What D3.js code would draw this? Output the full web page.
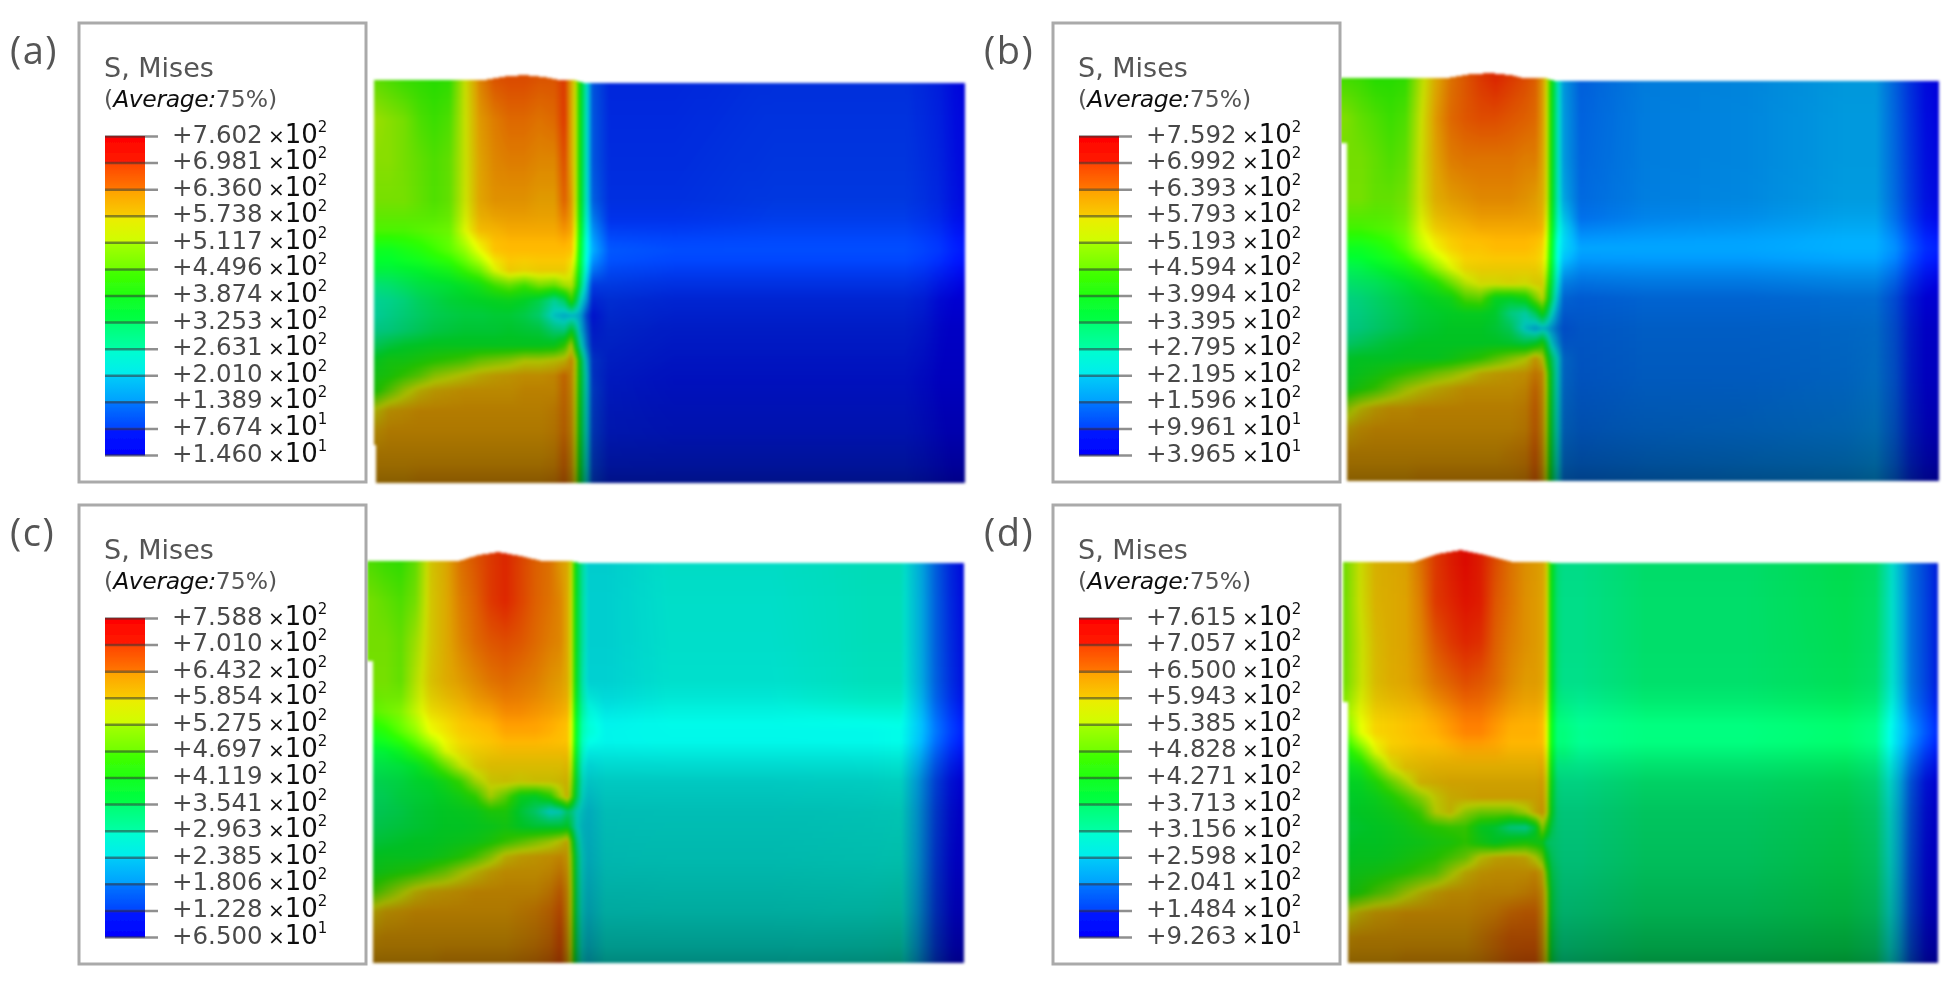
<!DOCTYPE html>
<html><head><meta charset="utf-8">
<script src="https://cdn.jsdelivr.net/npm/d3@7"></script>
<style>
html,body{margin:0;padding:0;background:#fff;overflow:hidden}
#wrap{position:relative;width:1955px;height:988px}
canvas,svg{position:absolute;left:0;top:0}
canvas{filter:blur(1.4px)}
text{font-family:"DejaVu Sans",sans-serif}
</style></head><body><div id="wrap"><canvas id="field" width="1955" height="988"></canvas><svg id="chart" width="1955" height="988"></svg></div>
<script>
// Legend ticks (MPa) as printed, top to bottom
const ticksA=["+7.602e2","+6.981e2","+6.360e2","+5.738e2","+5.117e2","+4.496e2","+3.874e2","+3.253e2","+2.631e2","+2.010e2","+1.389e2","+7.674e1","+1.460e1"];
const ticksB=["+7.592e2","+6.992e2","+6.393e2","+5.793e2","+5.193e2","+4.594e2","+3.994e2","+3.395e2","+2.795e2","+2.195e2","+1.596e2","+9.961e1","+3.965e1"];
const ticksC=["+7.588e2","+7.010e2","+6.432e2","+5.854e2","+5.275e2","+4.697e2","+4.119e2","+3.541e2","+2.963e2","+2.385e2","+1.806e2","+1.228e2","+6.500e1"];
const ticksD=["+7.615e2","+7.057e2","+6.500e2","+5.943e2","+5.385e2","+4.828e2","+4.271e2","+3.713e2","+3.156e2","+2.598e2","+2.041e2","+1.484e2","+9.263e1"];
const panelNames=["(a)","(b)","(c)","(d)"];
const bandColors=["#ff0000","#ff5d00","#ffb900","#e8ff00","#8bff00","#2eff00","#00ff2e","#00ff8b","#00ffe8","#00b9ff","#005dff","#0000ff"];
const rampStops=[4,12.5,20.8,29.2,37.5,45.8,54.2,62.5,70.8,79.2,87.5,96];
// Field sample positions (px from the part's corner)
const fieldX=[0,15,30,45,60,75,90,105,120,135,150,165,180,190,197,201,206,212,218];
const fieldY=[0,40,80,120,150,170,190,205,220,235,250,265,280,295,310,330,350,375,400];
const farX=[235,300,400,500,530,550,565,580,592];
const farY=[0,140,170,220,300,400];
// Surface lighting by depth
const shadeY=[0,40,80,120,135,150,162,180,200,220,250,300,350,385,400];
const shadeV=[.86,.87,.87,.88,.91,.96,1,1,.9,.82,.77,.74,.68,.6,.54];
// Stress, as percent of each legend's range
const fieldA=[
[60,58,56,55,54,55,70,82,87,88,88,87,87,90,78,70,48,30,13],
[66,64,62,58,56,58,70,80,83,85,85,84,85,90,78,70,48,30,13],
[64,64,62,60,58,60,70,79,82,83,83,82,82,88,78,70,48,30,13],
[62,62,62,60,58,60,70,79,81,81,81,80,80,86,80,70,48,30,14],
[57,57,57,58,59,60,70,78,79,80,80,80,80,82,80,70,48,30,18],
[48,48,50,52,55,58,63,71,78,79,79,79,79,79,78,68,46,30,20],
[44,44,45,46,48,50,55,60,70,76,75,76,76,76,72,62,44,28,15],
[38,39,41,43,44,45,47,50,56,60,56,62,60,66,68,58,40,24,10],
[34,35,37,40,42,44,45,46,47,48,46,42,34,40,55,44,30,20,8],
[33,35,37,39,41,42,43,43,44,44,42,38,27,24,25,25,22,12,6],
[35,36,38,40,42,43,44,44,44,45,44,43,37,36,46,38,25,15,7],
[40,43,45,46,47,47,47,47,47,47,47,47,48,55,70,50,32,18,8],
[47,50,50,52,54,56,58,62,64,66,70,70,72,74,80,70,45,25,10],
[50,52,56,60,66,69,72,75,77,78,79,79,80,84,80,70,46,28,10],
[52,60,68,74,77,78,79,79,79,79,80,80,80,84,80,70,46,28,11],
[72,78,79,80,80,80,80,80,80,80,80,80,81,84,80,70,46,28,11],
[78,80,80,80,80,80,80,80,80,80,80,80,81,84,80,70,46,28,11],
[80,80,80,80,80,80,80,80,80,80,80,80,81,85,80,70,46,28,11],
[80,80,80,81,81,81,81,81,81,81,81,81,82,85,80,70,46,28,11]];
const fieldB=[
[57,56,54,54,55,68,78,84,87,90,92,90,88,86,80,72,50,32,20],
[63,60,58,56,58,70,80,85,87,88,88,87,86,85,80,72,50,32,20],
[62,62,60,58,60,71,79,83,84,84,84,84,83,83,79,72,50,32,20],
[62,62,60,60,62,71,78,80,81,82,82,82,81,80,78,72,50,32,21],
[56,56,57,58,61,70,76,78,79,80,80,80,80,80,79,70,50,32,25],
[48,48,50,53,58,66,72,76,78,78,79,79,79,78,76,68,48,30,24],
[42,43,45,47,50,55,63,70,75,76,76,76,76,76,74,66,46,30,20],
[39,40,41,43,45,48,52,60,68,72,72,73,72,74,74,62,44,28,17],
[36,37,39,41,43,45,47,49,58,60,47,46,50,62,70,58,40,25,15],
[35,36,38,40,42,44,45,46,47,47,45,36,32,40,50,42,30,20,14],
[35,36,38,40,42,44,45,46,46,46,44,40,27,22,25,24,20,16,13],
[38,40,42,44,45,46,46,46,46,46,46,45,43,46,52,42,28,20,14],
[45,46,46,46,47,47,47,49,52,55,60,65,70,78,72,56,40,28,16],
[46,48,50,53,56,59,63,66,70,75,77,78,79,82,80,66,44,28,16],
[48,52,56,62,68,72,75,77,79,79,79,79,80,84,80,68,44,28,16],
[66,73,77,79,79,80,80,80,80,80,80,80,81,85,80,68,44,28,16],
[76,79,80,80,80,80,80,80,80,80,80,80,81,85,80,68,44,28,16],
[80,80,80,80,80,80,80,80,80,80,80,81,82,86,80,68,44,28,16],
[80,80,80,80,80,81,81,81,81,81,81,81,82,86,80,68,44,28,16]];
const fieldC=[
[58,56,55,60,74,78,84,87,90,92,89,86,84,80,78,70,46,34,27],
[62,60,58,62,74,78,83,86,90,92,89,86,84,82,78,70,46,34,27],
[62,62,60,66,74,78,82,85,87,88,87,85,83,82,78,70,46,34,27],
[62,62,60,68,75,78,80,82,84,85,84,83,81,80,78,70,46,33,27],
[58,60,62,68,74,76,78,80,81,83,83,82,81,80,79,70,46,35,30],
[50,53,58,63,71,74,77,78,79,81,81,81,80,79,78,70,46,34,31],
[44,45,48,54,60,70,74,76,77,78,78,78,78,78,78,69,45,32,28],
[42,43,44,46,52,60,69,74,76,76,76,76,76,76,77,68,44,30,27],
[41,42,43,45,46,50,56,67,73,74,73,74,74,75,76,66,44,30,27],
[40,41,43,44,45,47,50,55,68,60,48,46,54,68,76,62,42,29,26],
[40,41,42,44,45,46,47,48,52,52,44,38,28,30,38,36,30,27,25],
[41,42,43,44,45,46,46,47,48,50,46,44,44,44,46,40,30,26,25],
[43,44,45,46,46,47,48,49,52,56,60,64,68,72,76,58,36,27,25],
[46,47,47,47,48,50,53,58,65,74,77,78,79,80,78,64,40,28,25],
[48,50,52,54,58,62,68,73,77,79,79,79,80,82,79,66,40,28,25],
[56,62,68,74,77,78,79,80,80,80,80,80,82,85,80,68,40,28,25],
[74,78,79,80,80,80,80,80,80,80,81,82,84,87,80,68,40,28,25],
[79,80,80,80,80,80,80,80,80,80,81,82,84,88,80,68,40,28,25],
[80,80,80,80,80,81,81,81,81,81,82,83,85,88,80,68,40,28,25]];
const fieldD=[
[62,71,77,78,79,84,90,93,95,93,88,84,81,80,79,74,48,38,36],
[62,71,77,78,79,83,90,92,94,93,87,84,81,80,79,74,48,38,36],
[62,70,76,78,79,82,87,90,92,91,86,83,81,80,79,74,48,38,36],
[62,70,76,78,79,81,84,86,88,87,85,82,80,80,79,73,48,38,36],
[64,71,76,77,78,79,81,83,85,85,83,81,80,80,79,72,48,39,38],
[58,70,76,77,78,79,80,82,84,84,82,80,80,80,79,72,48,39,39],
[50,58,70,76,77,78,78,79,80,80,80,79,79,79,79,72,48,39,39],
[47,50,60,71,76,77,78,78,78,78,78,78,78,78,79,72,48,37,37],
[46,47,52,60,68,76,77,78,78,78,78,78,78,78,79,72,48,37,36],
[45,46,48,52,58,65,72,76,77,78,78,78,78,78,79,72,47,37,36],
[45,46,47,49,52,57,70,74,66,62,62,62,68,76,79,72,47,37,36],
[44,45,46,47,49,52,54,56,56,47,44,36,34,44,66,55,42,37,36],
[45,46,46,47,48,49,51,52,55,50,46,50,52,50,48,40,38,37,36],
[46,47,47,48,50,52,54,58,62,72,76,77,76,70,62,48,40,37,36],
[48,49,50,52,54,57,60,68,75,78,79,79,79,80,76,60,42,38,36],
[50,53,58,62,68,73,77,79,79,80,80,80,81,82,79,68,44,38,36],
[70,75,78,79,80,80,80,80,80,81,82,84,85,85,80,70,44,38,36],
[79,80,80,80,80,80,80,80,80,82,84,86,86,86,80,70,44,38,36],
[80,80,80,80,81,81,81,81,81,82,84,86,87,87,80,70,44,38,36]];
const farA=[[8,8,9,9,9,8,7,5,4],[9,9,10,10,10,9,8,6,5],[12,11,11,11,11,10,9,7,6],[9,8,8,8,8,7,5,4,3],[7,6,6,6,6,5,4,3,3],[7,7,7,7,7,6,5,4,3]];
const farB=[[14,17,18,20,20,14,9,5,4],[15,17,18,20,20,15,10,6,5],[19,19,19,20,20,17,12,8,7],[14,15,15,16,16,12,7,4,3],[14,15,15,16,17,13,7,4,3],[15,16,17,18,19,14,8,5,4]];
const farC=[[27,29.5,29.5,31,31,22,14,8,5],[27,29,29,31,31,22,14,9,6],[28,28.5,28.5,28.5,29,22,15,10,7],[28,28,28,28.5,29,19,11,6,4],[28,28.5,28.5,29,29.5,19,10,5,3],[29,29,29,30,31,19,10,5,3]];
const farD=[[36,39,39,42,40,27,16,11,7],[36,39,39,41,39,27,16,11,7],[37,38.5,38.5,40,38,26,18,12,8],[36,39,39,41,38,25,13,6,4],[36,39,39,42,39,25,12,5,3],[37,40,40,42,39,25,12,5,3]];
// Weld-cap surface profile: distance along the part, height above the plate
const surfX=[[0,110,130,150,170,185,200,210,600],[0,102,122,145,165,178,200,210,600],[0,88,108,128,150,172,200,210,600],[0,68,92,115,140,168,200,210,600]];
const surfH=[[0,0,3.5,5,3,0,0,-3,-3],[0,0,3.5,5,3,0,0,-3,-3],[0,0,6,9,5,0,0,-2,-2],[0,0,8,12,7,0,0,-1,-1]];
// Left edge step: depth of step, offset above and below it
const leftStep=[[365,0,2],[65,-5,2],[100,-3,3],[140,-2,3]];

const layout=[
 {name:0,ticks:ticksA,grid:fieldA,far:farA,dx:0,dy:0,x0:374,top:80,w:590,h:402},
 {name:1,ticks:ticksB,grid:fieldB,far:farB,dx:974,dy:0,x0:1345,top:78,w:593,h:402},
 {name:2,ticks:ticksC,grid:fieldC,far:farC,dx:0,dy:482,x0:370,top:561,w:593,h:401},
 {name:3,ticks:ticksD,grid:fieldD,far:farD,dx:974,dy:482,x0:1345,top:562,w:592,h:400}];

// colour ramp
const ramp=d3.scaleLinear().domain(rampStops).range(bandColors.slice().reverse()).interpolate(d3.interpolateRgb).clamp(true);
const lut=d3.range(1001).map(i=>d3.rgb(ramp(i/10)));
const shade=d3.scaleLinear().domain(shadeY).range(shadeV).clamp(true);

const ctx=document.getElementById("field").getContext("2d");
const allX=fieldX.concat(farX);
const colIdx=d3.scaleLinear().domain(allX).range(d3.range(allX.length)).clamp(true);
const rowIdx=d3.scaleLinear().domain(fieldY).range(d3.range(fieldY.length)).clamp(true);
const farRow=d3.scaleLinear().domain(farY).range(d3.range(farY.length)).clamp(true);

layout.forEach((p,pi)=>{
  const W=p.w+12,H=p.h+24,ox=p.x0-6,oy=p.top-18;
  const img=ctx.createImageData(W,H),D=img.data;
  const surf=d3.scaleLinear().domain(surfX[pi]).range(surfH[pi]).clamp(true);
  const [sy,sa,sb]=leftStep[pi];
  for(let py=0;py<H;py++){
    const ry=py+oy-p.top;
    if(ry>p.h) continue;
    const f=rowIdx(ry),i0=Math.floor(f),i1=Math.min(i0+1,fieldY.length-1),fr=f-i0;
    const g=farRow(ry),j0=Math.floor(g),j1=Math.min(j0+1,farY.length-1),gr=g-j0;
    const row=[];
    for(let c=0;c<fieldX.length;c++) row.push(p.grid[i0][c]*(1-fr)+p.grid[i1][c]*fr);
    for(let c=0;c<farX.length;c++) row.push(p.far[j0][c]*(1-gr)+p.far[j1][c]*gr);
    const sh=shade(ry);
    const lx=ry<sy?sa:sb;
    for(let px=0;px<W;px++){
      const rx=px+ox-p.x0;
      if(rx<lx||rx>p.w) continue;
      if(ry<Math.round(-surf(rx))) continue;
      const u=colIdx(rx),k0=Math.floor(u),k1=Math.min(k0+1,row.length-1),ur=u-k0;
      const t=row[k0]*(1-ur)+row[k1]*ur;
      const c=lut[Math.max(0,Math.min(1000,Math.round(t*10)))];
      const q=(py*W+px)*4;
      D[q]=c.r*sh;D[q+1]=c.g*sh;D[q+2]=c.b*sh;D[q+3]=255;
    }
  }
  ctx.putImageData(img,ox,oy);
});

// legends
const svg=d3.select("#chart");
const defs=svg.append("defs");
defs.append("filter").attr("id","soft").append("feGaussianBlur").attr("stdDeviation",.55);
// each legend band: a short stretch of the ramp, top to bottom
bandColors.forEach((c,i)=>{
  const centre=(11.5-i)/12*100;
  const gr=defs.append("linearGradient").attr("id","band"+i).attr("x1",0).attr("x2",0).attr("y1",0).attr("y2",1);
  gr.append("stop").attr("offset",0).attr("stop-color",ramp(centre+2.4));
  gr.append("stop").attr("offset",1).attr("stop-color",ramp(centre-2.4));
});
layout.forEach(p=>{
  const g=svg.append("g").attr("transform",`translate(${p.dx},${p.dy})`).attr("filter","url(#soft)");
  g.append("rect").attr("x",79).attr("y",23).attr("width",287).attr("height",459)
    .attr("fill","#fff").attr("stroke","#aaa").attr("stroke-width",3);
  g.append("text").attr("x",10).attr("y",64).attr("fill","#555").attr("font-size",38)
    .style("font-family","'Open Sans',sans-serif").attr("letter-spacing",1.5).text(panelNames[p.name]);
  g.append("text").attr("x",104).attr("y",77).attr("fill","#555").attr("font-size",27).text("S, Mises");
  const av=g.append("text").attr("x",104).attr("y",107).attr("font-size",23.5).attr("fill","#555");
  av.append("tspan").text("(");
  av.append("tspan").attr("font-style","italic").attr("fill","#111").attr("letter-spacing",-.4).text("Average:");
  av.append("tspan").text("75%)");
  const y=d3.scalePoint().domain(p.ticks).range([136,455]);
  const band=d3.scaleBand().domain(bandColors).range([136,455]);
  g.selectAll("rect.band").data(bandColors).join("rect").attr("class","band")
    .attr("x",105).attr("width",40).attr("y",d=>band(d)).attr("height",band.bandwidth()+.5)
    .attr("fill",(d,i)=>`url(#band${i})`);
  const axis=d3.axisRight(y).tickSize(53).tickPadding(14).tickFormat(d=>d.split("e")[0]);
  const ag=g.append("g").attr("transform","translate(105,0)").call(axis);
  ag.select(".domain").remove();
  ag.selectAll(".tick line").attr("stroke","#333").attr("stroke-opacity",.55).attr("stroke-width",2.5);
  ag.selectAll(".tick text").attr("font-size",24.5).attr("fill","#4a4a4a").attr("dy",6)
    .style("font-family","'DejaVu Sans',sans-serif");
  const ex=ag.selectAll(".tick").append("text").attr("x",163).attr("dy",6).attr("fill","#111")
    .style("font-family","'DejaVu Sans',sans-serif");
  ex.append("tspan").attr("font-size",20).text("×");
  ex.append("tspan").attr("font-size",26).text("10");
  ex.append("tspan").attr("font-size",15).attr("dy",-11).text(d=>d.split("e")[1]);
});
</script></body></html>
